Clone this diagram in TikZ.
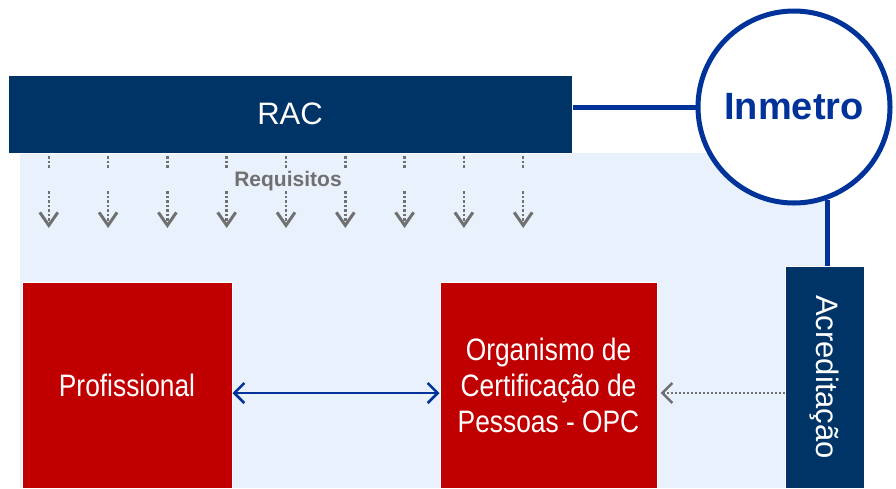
\documentclass[tikz,border=0pt]{standalone}
\usepackage{fontspec}
\setmainfont{Liberation Sans}
\newfontfamily\narrowfont[FakeStretch=0.85]{Liberation Sans}
\usepackage{tikz}
\usetikzlibrary{arrows.meta, calc, positioning}
\definecolor{navy}{RGB}{0, 51, 102}
\definecolor{redbox}{RGB}{192, 0, 0}
\definecolor{bgblue}{RGB}{233, 241, 253}
\definecolor{lineblue}{RGB}{0, 51, 153}
\definecolor{reqgray}{RGB}{112, 112, 112}
\tikzset{
    navynode/.style = {draw=white, line width=1pt, fill=navy, rectangle, inner sep=0pt, text=white},
    rednode/.style = {draw=white, line width=1pt, fill=redbox, rectangle, inner sep=0pt, text=white,
      align=center, font=\narrowfont\fontsize{31}{36}\selectfont},
    circlenode/.style = {circle, draw=lineblue, line width=5pt, fill=white, inner sep=0pt},
    textnode/.style = {draw=none, fill=none, rectangle, inner sep=0pt},
    blueline/.style = {lineblue, line width=5pt},
    reqline/.style = {reqgray, line width=2.5pt, dash pattern=on 2.5pt off 2pt},
    both/.style = {lineblue, line width=2.5pt, {Straight Barb[length=10pt, width=20pt]}-{Straight Barb[length=10pt, width=20pt]}},
}

\begin{document}
\begin{tikzpicture}[x=1pt, y=-1pt]
\useasboundingbox (0,0) rectangle (896,488);
\fill[bgblue] (20,153) rectangle (828,488);

\node[navynode, name=rac, minimum width=564pt, minimum height=78pt,
  font=\fontsize{31}{36}\selectfont] at (290,114) {RAC};
\node[circlenode, name=inmetro, minimum size=192pt, text=lineblue,
  font=\bfseries\fontsize{38}{44}\selectfont] at (794,107) {Inmetro};
\draw[blueline] (rac.east |- inmetro.west) -- (inmetro.west);

% requisitos
\foreach \i in {0,...,8}{
  \coordinate (top\i) at ({48.8+59.3*\i},156);
  \coordinate (mid\i) at ({48.8+59.3*\i},168);
  \coordinate (low\i) at ({48.8+59.3*\i},191);
  \coordinate (tip\i) at ({48.8+59.3*\i},228);
  \draw[reqline] (top\i) -- (mid\i);
  \draw[reqline, -{Straight Barb[length=13pt, width=18pt, line width=3pt]}] (low\i) -- (tip\i);
}
\node[textnode, name=req, text=reqgray, font=\bfseries\fontsize{21}{24}\selectfont] at (288,181) {Requisitos};

\node[rednode, name=prof, minimum width=210pt, minimum height=206pt] at (127,385) {Profissional};
\node[rednode, name=opc, minimum width=217pt, minimum height=206pt] at (548.5,385)
  {Organismo de\\Certificação de\\Pessoas - OPC};
\node[navynode, name=acred, minimum width=79pt, minimum height=222pt,
  font=\fontsize{31}{36}\selectfont] at (824.5,377) {\rotatebox{-90}{Acreditação}};

\draw[blueline] (inmetro.-70) -- (inmetro.-70 |- acred.north);
\draw[both] ([yshift=-8pt]prof.east) -- ([yshift=-8pt]opc.west);
\coordinate (opcin) at ([yshift=-8pt, xshift=3pt]opc.east);
\draw[reqline, dash pattern=on 2pt off 2pt, line width=2pt, -{Straight Barb[length=10pt, width=20pt, line width=2.5pt]}]
  (acred.west |- opcin) -- (opcin);
\end{tikzpicture}
\end{document}
